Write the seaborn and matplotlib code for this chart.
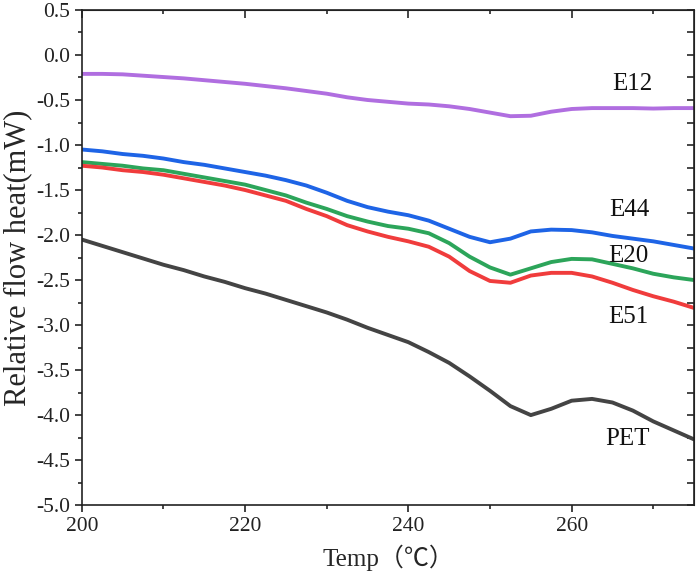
import pandas as pd
import matplotlib
matplotlib.use("Agg")
import matplotlib.pyplot as plt
import seaborn as sns
from matplotlib.ticker import MultipleLocator

# ---- data ----
temp = [200, 202.5, 205, 207.5, 210, 212.5, 215, 217.5, 220, 222.5, 225, 227.5,
        230, 232.5, 235, 237.5, 240, 242.5, 245, 247.5, 250, 252.5, 255, 257.5,
        260, 262.5, 265, 267.5, 270, 272.5, 275]

e12 = [-0.21, -0.21, -0.215, -0.23, -0.245, -0.26, -0.28, -0.30, -0.32, -0.345, -0.37, -0.40,
       -0.43, -0.47, -0.50, -0.52, -0.54, -0.55, -0.57, -0.60, -0.64, -0.68, -0.675, -0.63,
       -0.60, -0.59, -0.59, -0.59, -0.595, -0.59, -0.59]
e44 = [-1.05, -1.07, -1.10, -1.12, -1.15, -1.19, -1.22, -1.26, -1.30, -1.34, -1.39, -1.45,
       -1.53, -1.62, -1.69, -1.74, -1.78, -1.84, -1.93, -2.02, -2.08, -2.04, -1.96, -1.94,
       -1.945, -1.97, -2.01, -2.04, -2.07, -2.11, -2.15]
e20 = [-1.19, -1.21, -1.23, -1.26, -1.28, -1.32, -1.36, -1.40, -1.44, -1.50, -1.56, -1.64,
       -1.71, -1.79, -1.85, -1.90, -1.93, -1.98, -2.09, -2.24, -2.36, -2.44, -2.37, -2.30,
       -2.265, -2.27, -2.32, -2.37, -2.43, -2.47, -2.50]
e51 = [-1.23, -1.25, -1.28, -1.30, -1.33, -1.37, -1.41, -1.45, -1.50, -1.56, -1.62, -1.71,
       -1.79, -1.89, -1.96, -2.02, -2.07, -2.13, -2.24, -2.40, -2.51, -2.53, -2.45, -2.42,
       -2.42, -2.46, -2.53, -2.61, -2.68, -2.74, -2.81]
pet = [-2.05, -2.12, -2.19, -2.26, -2.33, -2.39, -2.46, -2.52, -2.59, -2.65, -2.72, -2.79,
       -2.86, -2.94, -3.03, -3.11, -3.19, -3.30, -3.42, -3.57, -3.73, -3.90, -4.00, -3.93,
       -3.84, -3.82, -3.86, -3.95, -4.07, -4.17, -4.27]

samples = ["E12", "E44", "E20", "E51", "PET"]
colors = ["#B06EE0", "#1E64E6", "#2CA55A", "#F03C3C", "#444444"]
label_pos = [(267.4, -0.32), (267.1, -1.72), (266.9, -2.23), (266.9, -2.91), (266.8, -4.26)]

df = pd.DataFrame({"temp": temp, "E12": e12, "E44": e44, "E20": e20, "E51": e51, "PET": pet})
long = df.melt(id_vars="temp", var_name="sample", value_name="heat")

# ---- plot ----
sns.set_style("ticks")
plt.rcParams['font.family'] = ['Liberation Serif', 'Noto Sans CJK SC', 'DejaVu Sans']

fig = plt.figure(figsize=(6.99, 5.86), dpi=100)
ax = fig.add_axes([0.117, 0.138, 0.876, 0.845])

sns.lineplot(data=long, x="temp", y="heat", hue="sample", hue_order=samples,
             palette=colors, linewidth=2.8, legend=False, ax=ax)

for name, (x, y) in zip(samples, label_pos):
    ax.text(x, y, name, fontsize=18, ha="center", va="center", color="#111111")

ax.set_xlim(200, 275)
ax.set_ylim(-5.0, 0.5)
ax.xaxis.set_major_locator(MultipleLocator(20))
ax.xaxis.set_minor_locator(MultipleLocator(10))
ax.yaxis.set_major_locator(MultipleLocator(0.5))
ax.yaxis.set_minor_locator(MultipleLocator(0.25))
ax.yaxis.set_major_formatter(matplotlib.ticker.FormatStrFormatter('%.1f'))

for s in ax.spines.values():
    s.set_visible(True)
    s.set_linewidth(1.2)
    s.set_color("#222222")

ax.tick_params(which="major", direction="out", length=5, width=1.2, labelsize=15.5, colors="#222222")
ax.tick_params(which="minor", direction="out", length=3, width=1.2)

# mirrored ticks on top and right, pointing inward
top = ax.secondary_xaxis("top")
top.xaxis.set_major_locator(MultipleLocator(20))
top.xaxis.set_minor_locator(MultipleLocator(10))
top.tick_params(which="major", direction="in", length=6, width=1.2, labeltop=False)
top.tick_params(which="minor", direction="in", length=3, width=1.2)
right = ax.secondary_yaxis("right")
right.yaxis.set_major_locator(MultipleLocator(0.25))
right.tick_params(direction="in", length=5, width=1.2, labelright=False)

ax.set_xlabel("Temp（℃）", fontsize=18, labelpad=6)
ax.set_ylabel("Relative flow heat(mW)", fontsize=22, labelpad=3)

plt.savefig("out.png", dpi=100)
